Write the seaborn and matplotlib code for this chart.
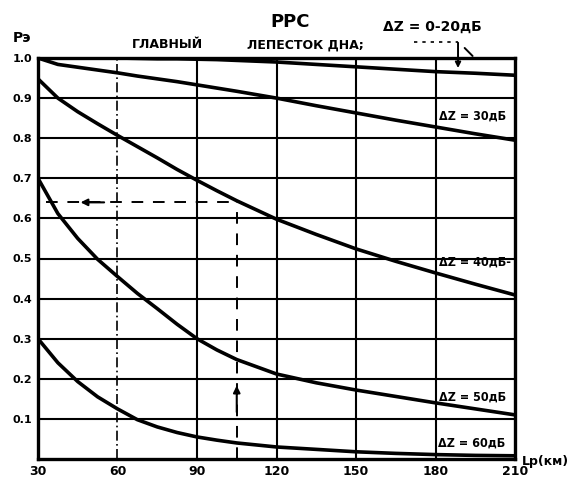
import matplotlib
matplotlib.use("Agg")
import matplotlib.pyplot as plt
import seaborn as sns
import pandas as pd

# ---- data ----
dist_km = [30, 37.5, 45, 52.5, 60, 67.5, 75, 82.5, 90, 97.5, 105, 120, 135, 150, 165, 180, 195, 210]
p_dz_0_20 = [1.0, 1.0, 1.0, 1.0, 1.0, 0.999, 0.998, 0.998, 0.997, 0.996, 0.994, 0.99, 0.984, 0.978, 0.972, 0.966, 0.962, 0.957]
p_dz_30 = [1.0, 0.984, 0.977, 0.97, 0.963, 0.955, 0.948, 0.941, 0.933, 0.925, 0.917, 0.90, 0.881, 0.863, 0.845, 0.828, 0.811, 0.795]
p_dz_40 = [0.948, 0.90, 0.866, 0.836, 0.807, 0.779, 0.751, 0.722, 0.695, 0.669, 0.644, 0.598, 0.56, 0.524, 0.493, 0.464, 0.436, 0.409]
p_dz_50 = [0.70, 0.612, 0.55, 0.498, 0.455, 0.413, 0.375, 0.336, 0.30, 0.272, 0.248, 0.212, 0.19, 0.172, 0.156, 0.14, 0.125, 0.11]
p_dz_60 = [0.30, 0.24, 0.193, 0.155, 0.125, 0.098, 0.080, 0.066, 0.055, 0.047, 0.04, 0.03, 0.024, 0.018, 0.014, 0.011, 0.009, 0.008]
series_names = ["0-20", "30", "40", "50", "60"]

x_ticks = [30, 60, 90, 120, 150, 180, 210]
x_tick_labels = ["30", "60", "90", "120", "150", "180", "210"]
y_ticks = [0.1, 0.2, 0.3, 0.4, 0.5, 0.6, 0.7, 0.8, 0.9, 1.0]
y_tick_labels = ["0.1", "0.2", "0.3", "0.4", "0.5", "0.6", "0.7", "0.8", "0.9", "1.0"]

read_x = 105
read_p = 0.64

rows = []
for name, vals in zip(series_names, [p_dz_0_20, p_dz_30, p_dz_40, p_dz_50, p_dz_60]):
    for xv, yv in zip(dist_km, vals):
        rows.append({"L": xv, "P": yv, "dz": name})
df = pd.DataFrame(rows)

sns.set_style("white")
plt.rcParams["font.family"] = ["DejaVu Sans"]
plt.rcParams["text.color"] = "black"
plt.rcParams["xtick.color"] = "black"
plt.rcParams["ytick.color"] = "black"
plt.rcParams["axes.labelcolor"] = "black"

fig = plt.figure(figsize=(5.72, 4.84), dpi=100)
ax = fig.add_axes([38 / 572, 1 - 459 / 484, (515 - 38) / 572, (459 - 58) / 484])

# grid
for yv in y_ticks[:-1]:
    ax.axhline(yv, color="black", lw=1.5, zorder=1)
for xv in x_ticks[2:-1]:
    ax.axvline(xv, color="black", lw=1.5, zorder=1)
ax.axvline(60, color="black", lw=1.2, ls=(0, (6, 2, 1, 2)), zorder=1)

sns.lineplot(data=df, x="L", y="P", hue="dz", palette=["black"] * 5,
             legend=False, linewidth=2.6, ax=ax, zorder=3)

ax.set_xlim(30, 210)
ax.set_ylim(0, 1.0)
ax.set_xticks(x_ticks)
ax.set_xticklabels(x_tick_labels, fontsize=9, fontweight="bold", color="black")
ax.set_yticks(y_ticks)
ax.set_yticklabels(y_tick_labels, fontsize=8, fontweight="bold", color="black")
ax.set_xticks([45, 75, 135, 165, 195], minor=True)
ax.set_yticks([0.05, 0.15, 0.25, 0.35, 0.45, 0.55, 0.65, 0.75, 0.85], minor=True)
ax.tick_params(axis="both", which="major", length=0, pad=4)
ax.tick_params(axis="both", which="minor", length=5, width=1.5, direction="in", color="black")
ax.set_xlabel("")
ax.set_ylabel("")
for s in ax.spines.values():
    s.set_color("black")
    s.set_linewidth(2.4)
    s.set_visible(True)

# reading lines
ax.plot([33, read_x], [read_p, read_p], color="black", lw=1.4, ls=(0, (6, 5)), zorder=2)
ax.plot([read_x, read_x], [0, read_p], color="black", lw=1.4, ls=(0, (6, 5)), zorder=2)
ax.annotate("", xy=(45, read_p), xytext=(56, read_p),
            arrowprops=dict(arrowstyle="-|>", color="black", lw=1.5, mutation_scale=10))
ax.annotate("", xy=(read_x, 0.19), xytext=(read_x, 0.11),
            arrowprops=dict(arrowstyle="-|>", color="black", lw=1.5, mutation_scale=10))

# series labels
lab_kw = dict(fontsize=9, fontweight="bold", color="black", fontstretch="condensed",
              va="center", ha="left", zorder=4)
ax.text(181.5, 0.855, "ΔZ = 30дБ", **lab_kw)
ax.text(181.5, 0.49, "ΔZ = 40дБ-", **lab_kw)
ax.text(181.5, 0.155, "ΔZ = 50дБ", **lab_kw)
ax.text(181.0, 0.04, "ΔZ = 60дБ", **lab_kw)

# 0-20 dB leader
ax.plot([172, 188.5], [1.04, 1.04], color="black", lw=1.2, ls=(0, (2, 3)), clip_on=False)
ax.annotate("", xy=(188.5, 0.968), xytext=(188.5, 1.045),
            arrowprops=dict(arrowstyle="-|>", color="black", lw=1.4, mutation_scale=8),
            annotation_clip=False)
ax.plot([191, 194], [1.025, 1.005], color="black", lw=1.4, clip_on=False)

# figure texts
fig.text(290 / 572, 1 - 22 / 484, "РРС", fontsize=13, fontweight="bold", ha="center", va="center")
fig.text(167 / 572, 1 - 45 / 484, "ГЛАВНЫЙ", fontsize=9, fontweight="bold", ha="center", va="center")
fig.text(305 / 572, 1 - 45 / 484, "ЛЕПЕСТОК ДНА;", fontsize=9, fontweight="bold", ha="center", va="center")
fig.text(432 / 572, 1 - 27 / 484, "ΔZ = 0-20дБ", fontsize=10, fontweight="bold", ha="center", va="center")
fig.text(22 / 572, 1 - 38 / 484, "Pэ", fontsize=10, fontweight="bold", ha="center", va="center")
fig.text(545 / 572, 1 - 462 / 484, "Lр(км)", fontsize=9, fontweight="bold", ha="center", va="center")

fig.savefig("out.png", dpi=100, facecolor="white")
